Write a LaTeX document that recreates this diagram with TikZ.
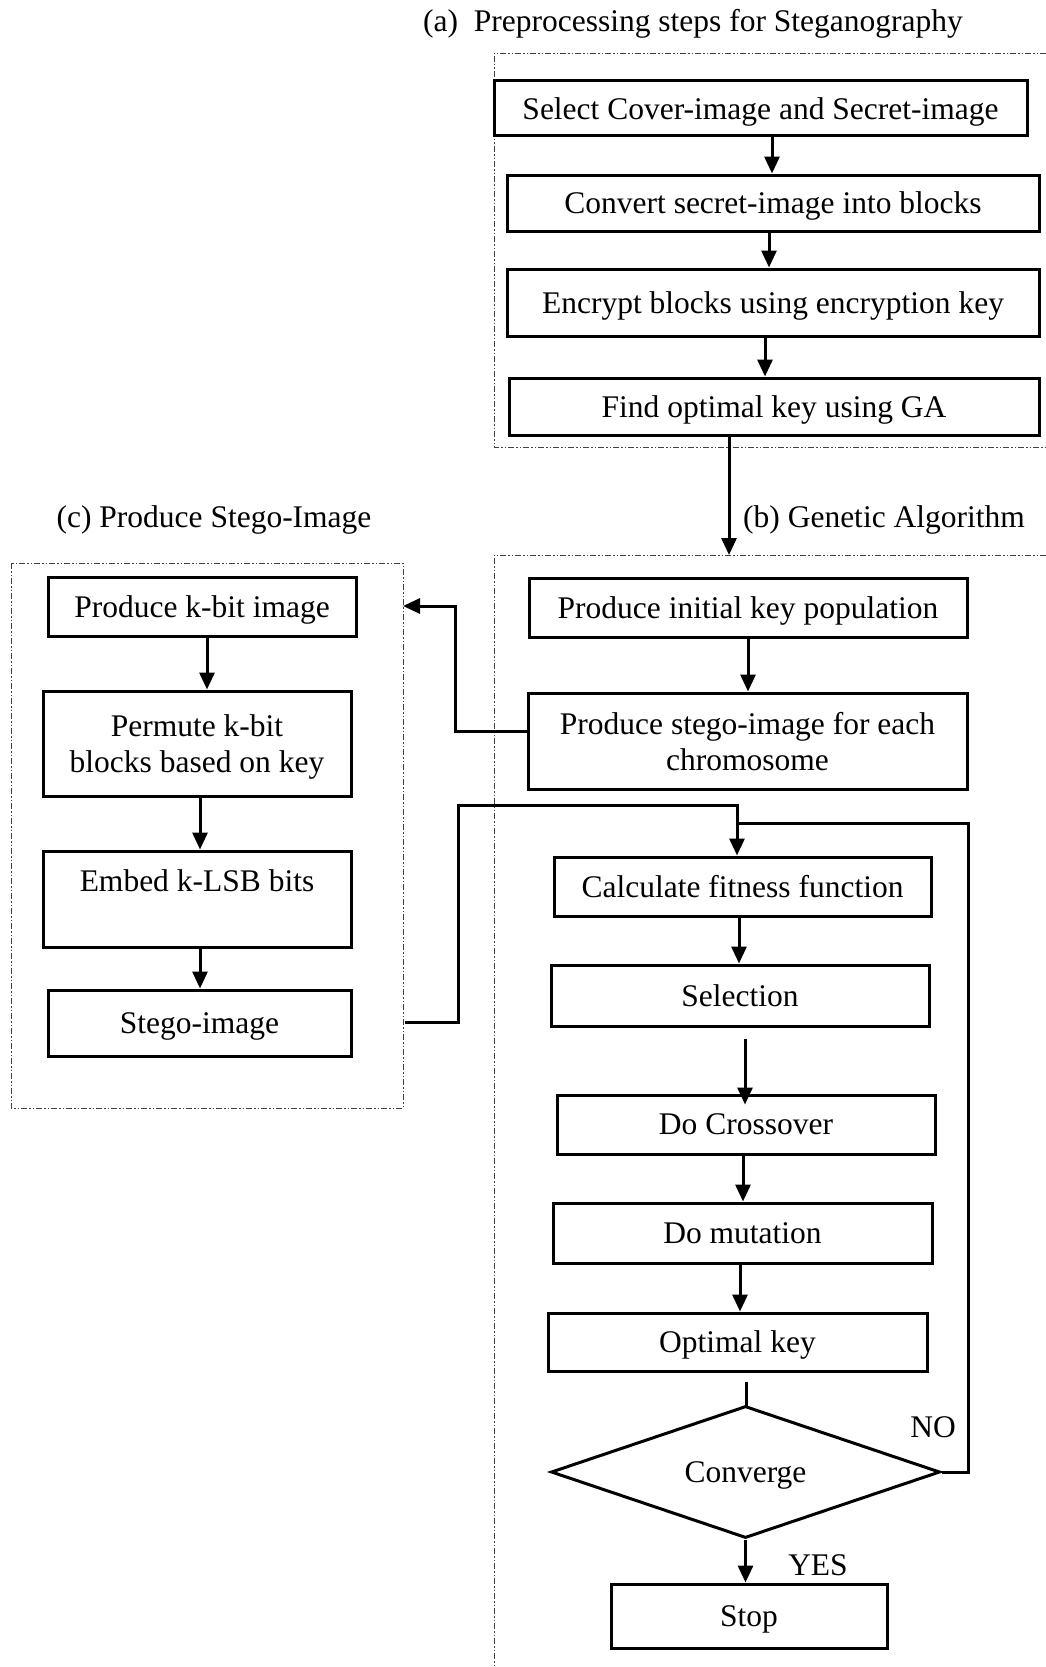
\documentclass[tikz,border=0pt]{standalone}
\usepackage{fontspec}
\setmainfont{Liberation Serif}
\usetikzlibrary{arrows.meta,shapes.geometric}

\begin{document}
\begin{tikzpicture}[x=1pt,y=-1pt,
  every node/.style={font=\fontsize{31.5}{36}\selectfont},
  stepbox/.style={draw, line width=3pt, inner sep=0pt, align=center, text depth=0pt},
  decision/.style={draw, line width=3pt, inner sep=0pt, shape=diamond, shape aspect=3, text depth=0pt},
  arr/.style={line width=3pt, -{Triangle[width=15pt,length=17pt]}},
  link/.style={line width=3pt},
  group/.style={line width=0.9pt, draw=black!75,
    dash pattern=on 6pt off 2pt on 1.5pt off 2pt on 1.5pt off 2pt},
]
\fill[white] (0,0) rectangle (1046,1667);
\useasboundingbox (0,0) rectangle (1046,1667);

% group frames
\draw[group] (1046,53) -- (494,53) -- (494,447) -- (1046,447);
\draw[group] (1046,555) -- (494,555) -- (494,1667);
\draw[group] (11,563) rectangle (403,1108);

% group titles
\node (ta) at (693,24) {(a)~ Preprocessing steps for Steganography};
\node (tb) at (884,520) {(b) Genetic Algorithm};
\node (tc) at (214,520) {(c) Produce Stego-Image};

% (a) preprocessing
\node[stepbox, minimum width=533pt, minimum height=55pt] (a1) at (760.5,108.5) {Select Cover-image and Secret-image};
\node[stepbox, minimum width=532pt, minimum height=56pt] (a2) at (773,203) {Convert secret-image into blocks};
\node[stepbox, minimum width=532pt, minimum height=67pt] (a3) at (773,302.5) {Encrypt blocks using encryption key};
\node[stepbox, minimum width=530pt, minimum height=57pt] (a4) at (774,406.5) {Find optimal key using GA};

% (c) stego-image
\node[stepbox, minimum width=308pt, minimum height=59pt] (c1) at (202,606.5) {Produce k-bit image};
\node[stepbox, minimum width=308pt, minimum height=105pt] (c2) at (197,743.5) {Permute k-bit\\blocks based on key};
\node[stepbox, minimum width=308pt, minimum height=96pt] (c3) at (197,899) {Embed k-LSB bits\\\mbox{}};
\node[stepbox, minimum width=303pt, minimum height=66pt] (c4) at (199.5,1023) {Stego-image};

% (b) genetic algorithm
\node[stepbox, minimum width=438pt, minimum height=59pt] (b1) at (748,607.5) {Produce initial key population};
\node[stepbox, minimum width=439pt, minimum height=96pt] (b2) at (747.5,741) {Produce stego-image for each\\chromosome};
\node[stepbox, minimum width=377pt, minimum height=59pt] (b3) at (742.5,886.5) {Calculate fitness function};
\node[stepbox, minimum width=378pt, minimum height=61pt] (b4) at (740,995.5) {Selection};
\node[stepbox, minimum width=378pt, minimum height=59pt] (b5) at (746,1124.5) {Do Crossover};
\node[stepbox, minimum width=379pt, minimum height=60pt] (b6) at (742.5,1233) {Do mutation};
\node[stepbox, minimum width=379pt, minimum height=58pt] (b7) at (737.5,1342) {Optimal key};
\node[decision, minimum width=389pt, minimum height=132pt] (dia) at (745.5,1472) {Converge};
\node[stepbox, minimum width=276pt, minimum height=64pt] (stop) at (749,1616) {Stop};
\node (no) at (933,1427) {NO};
\node (yes) at (818,1565) {YES};

% connector end points on frames
\coordinate (btop) at (729,555);
\coordinate (cin) at (403,606);
\coordinate (cout) at (405,1022);
\coordinate (join) at (737,823);

% (a) flow
\draw[arr] ([xshift=11.5pt]a1.south) -- ([xshift=11.5pt]a1.south |- a2.north);
\draw[arr] ([xshift=-4pt]a2.south) -- ([xshift=-4pt]a2.south |- a3.north);
\draw[arr] ([xshift=-8pt]a3.south) -- ([xshift=-8pt]a3.south |- a4.north);
\draw[arr] (a4.south -| btop) -- (btop);

% (c) flow
\draw[arr] ([xshift=5pt]c1.south) -- ([xshift=5pt]c1.south |- c2.north);
\draw[arr] ([xshift=3pt]c2.south) -- ([xshift=3pt]c2.south |- c3.north);
\draw[arr] ([xshift=3pt]c3.south) -- ([xshift=3pt]c3.south |- c4.north);

% (b) flow
\draw[arr] (b1.south) -- (b1.south |- b2.north);
\draw[arr] ([yshift=10pt]b2.west) -- ++(-71,0) |- (cin);
\draw[arr] (cout) -- ++(53,0) -- ++(0,-217) -| ([xshift=-5.5pt]b3.north);
\draw[arr] ([xshift=-3.5pt]b3.south) -- ([xshift=-3.5pt]b3.south |- b4.north);
\draw[arr] ([shift={(5,11)}]b4.south) -- ([shift={(5,11)}]b4.south |- b5.north);
\draw[arr] ([xshift=-3pt]b5.south) -- ([xshift=-3pt]b5.south |- b6.north);
\draw[arr] ([xshift=-2.5pt]b6.south) -- ([xshift=-2.5pt]b6.south |- b7.north);
\draw[link] ([shift={(8.5,9)}]b7.south) -- ([shift={(8.5,3)}]b7.south |- dia.north);
\draw[link] (dia.east) -- ++(27,0) |- (join);
\draw[arr] (dia.south) -- (dia.south |- stop.north);
\end{tikzpicture}
\end{document}
